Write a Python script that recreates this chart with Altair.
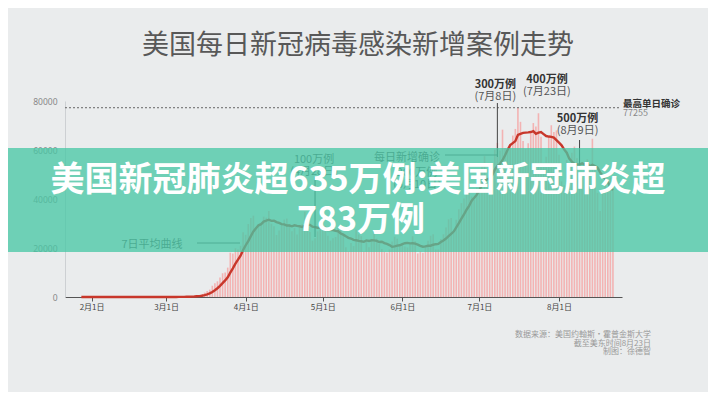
import altair as alt
import pandas as pd

FONT = "Noto Sans CJK SC"

# ---- data: US daily new confirmed cases, 2020-01-22 .. 2020-08-22 ----
jan = [1, 0, 1, 0, 3, 0, 0, 0, 0, 1]
feb = [1, 0, 3, 0, 0, 0, 0, 0, 0, 0, 1, 0, 1, 0, 0, 0, 0, 0, 0, 0,
       2, 0, 0, 0, 0, 0, 0, 1, 8]
mar = [8, 23, 19, 33, 77, 53, 166, 116, 75, 188, 365, 439, 633, 759, 1234,
       1800, 2400, 3000, 4600, 5600, 6400, 8000, 9700, 10000, 12000, 18100,
       17800, 19900, 19400, 20900, 26400]
apr = [25400, 29800, 32200, 33200, 28300, 29500, 29600, 32800, 32400, 35100,
       29900, 28900, 25300, 27100, 29500, 31600, 32000, 29700, 26800, 28100,
       25500, 28500, 29700, 34800, 33000, 26500, 23000, 24000, 26800, 29500]
may = [33900, 29000, 25000, 23000, 24000, 24500, 28500, 27500, 25600, 20300,
       18600, 22000, 20800, 27400, 25500, 24800, 18600, 22500, 20300, 23000,
       27200, 23800, 21600, 19600, 18500, 18200, 19400, 22700, 24600, 23800,
       20600]
jun = [22000, 20600, 20200, 21500, 24800, 22800, 17800, 18600, 18100, 21200,
       23000, 25000, 25600, 19400, 19400, 23700, 25600, 28400, 31700, 32200,
       26100, 31500, 35800, 38300, 40200, 45300, 43200, 41000, 39700, 44700]
jul = [51800, 54500, 57500, 46800, 44000, 48900, 60200, 62900, 59800, 68300,
       60800, 59700, 62300, 65900, 68600, 77255, 71500, 63700, 60500, 62800,
       66900, 71000, 69600, 75000, 65400, 54800, 57200, 65400, 70100, 67300,
       68000]
aug = [58100, 47200, 45600, 55900, 53200, 58900, 61400, 56600, 46900, 48800,
       52800, 56200, 51600, 64600, 53200, 42500, 35100, 43700, 46100, 44100,
       48700, 44900]

cases = jan + feb + mar + apr + may + jun + jul + aug
dates = pd.date_range("2020-01-22", "2020-08-22", freq="D").strftime("%Y-%m-%d").tolist()
df = pd.DataFrame({"date": dates, "cases": cases})

y_ticks = [0, 20000, 40000, 60000, 80000]
x_tick_months = [2, 3, 4, 5, 6, 7, 8]
peak_value = 77255

title_text = "美国每日新冠病毒感染新增案例走势"
banner_line1 = "美国新冠肺炎超635万例:美国新冠肺炎超"
banner_line2 = "783万例"
source_lines = ["数据来源：美国约翰斯·霍普金斯大学", "截至美东时间8月23日", "制图：徐德智"]

# ---- scales / axes ----
x_scale = alt.Scale(
    type="utc",
    domain=[alt.DateTime(year=2020, month=1, date=23, hours=14, utc=True),
            alt.DateTime(year=2020, month=8, date=23, hours=14, utc=True)],
)
x_axis = alt.Axis(
    values=[alt.DateTime(year=2020, month=m, date=1, utc=True) for m in x_tick_months],
    labelExpr="(utcmonth(datum.value)+1) + '月' + utcdate(datum.value) + '日'",
    domainColor="#555", tickColor="#555", tickSize=4, labelColor="#444",
    labelFontSize=8, labelFont=FONT, labelPadding=2, grid=False,
)
y_axis = alt.Axis(
    values=y_ticks, format="d", labelColor="#888", labelFontSize=8.5,
    labelFont="Noto Sans", ticks=False, domainColor="#cdd0d3", grid=False,
    labelPadding=8,
)

base = alt.Chart(df)
bars = base.mark_bar(color="#f3b3b3", size=1.6).encode(
    x=alt.X("date:T", scale=x_scale, axis=x_axis, title=None),
    y=alt.Y("cases:Q", scale=alt.Scale(domain=[0, 80000]), axis=y_axis, title=None),
)
line = base.transform_window(
    avg="mean(cases)", n="count()", frame=[-6, 0], sort=[alt.SortField("date")]
).transform_filter("datum.n >= 7").mark_line(
    color="#c8372b", strokeWidth=2.4
).encode(x=alt.X("date:T", title=None), y=alt.Y("avg:Q", title=None))

peak_rule = alt.Chart(pd.DataFrame({"v": [peak_value]})).mark_rule(
    color="#666", strokeDash=[2, 2], strokeWidth=1
).encode(y=alt.Y("v:Q", title=None), x=alt.value(0), x2=alt.value(556))


def txt(s, x=None, y=0, size=11, color="#555", weight="normal", align="center",
        date=None, dx=0):
    d = {"t": [s]}
    enc = dict(text="t:N", y=alt.value(y))
    if date is not None:
        d["date"] = [date]
        enc["x"] = alt.X("date:T", title=None)
    else:
        enc["x"] = alt.value(x)
    return alt.Chart(pd.DataFrame(d)).mark_text(
        font=FONT, fontSize=size, color=color, fontWeight=weight,
        align=align, baseline="middle", dx=dx,
    ).encode(**enc)


def vrule(date, y1, y2, color="#444"):
    return alt.Chart(pd.DataFrame({"date": [date]})).mark_rule(
        color=color, strokeWidth=1
    ).encode(x=alt.X("date:T", title=None), y=alt.value(y1), y2=alt.value(y2))


def hrule(x1, x2, y, color="#666"):
    return alt.Chart(pd.DataFrame({"k": [0]})).mark_rule(
        color=color, strokeWidth=1
    ).encode(x=alt.value(x1), x2=alt.value(x2), y=alt.value(y))


under = [
    txt("100万例", y=59, date="2020-04-28", dx=-1),
    txt("(4月28日)", y=71, date="2020-04-28", dx=-1),
    vrule("2020-04-28", 76, 136),
    txt("每日新增确诊", x=342, y=57),
    hrule(380, 432, 54),
    txt("200万例", x=352, y=72),
    txt("(6月10日)", x=352, y=84),
    txt("7日平均曲线", x=87, y=144),
    hrule(132, 175, 142),
    vrule("2020-07-08", 2, 56),
    vrule("2020-08-09", 39, 64),
]

banner = alt.Chart(pd.DataFrame({"k": [0]})).mark_rect(
    color="#47c7a4", opacity=0.76
).encode(x=alt.value(-57), x2=alt.value(643), y=alt.value(47), y2=alt.value(151))

banner_texts = [
    txt(banner_line1, x=293, y=80, size=34, color="#ffffff", weight="bold"),
    txt(banner_line2, x=296, y=120, size=34, color="#ffffff", weight="bold"),
]

over = [
    txt(title_text, x=293, y=-55, size=27, color="#585858"),
    txt("300万例", y=-16, date="2020-07-08", dx=-2, color="#333", weight="bold"),
    txt("(7月8日)", y=-4, date="2020-07-08", dx=-2),
    txt("400万例", y=-21, date="2020-07-23", dx=11, color="#333", weight="bold"),
    txt("(7月23日)", y=-9, date="2020-07-23", dx=11),
    txt("500万例", y=18, date="2020-08-09", dx=-2, color="#333", weight="bold"),
    txt("(8月9日)", y=30, date="2020-08-09", dx=-2),
    txt("最高单日确诊", x=558, y=3, size=9.5, color="#333", weight="bold", align="left"),
    txt(str(peak_value), x=558, y=12, size=9, color="#888", align="left"),
    txt(source_lines[0], x=586, y=234, size=8, color="#999", align="right"),
    txt(source_lines[1], x=586, y=242.5, size=8, color="#999", align="right"),
    txt(source_lines[2], x=586, y=251, size=8, color="#999", align="right"),
]

chart = alt.layer(
    bars, line, peak_rule, *under, banner, *banner_texts, *over
).properties(
    width=557, height=196,
    padding={"left": 57, "top": 93, "right": 86, "bottom": 95},
    autosize=alt.AutoSizeParams(type="none"),
    background="#eaeced",
).configure_view(stroke=None)

chart.save("out.html", embed_options={"renderer": "svg", "actions": False})
